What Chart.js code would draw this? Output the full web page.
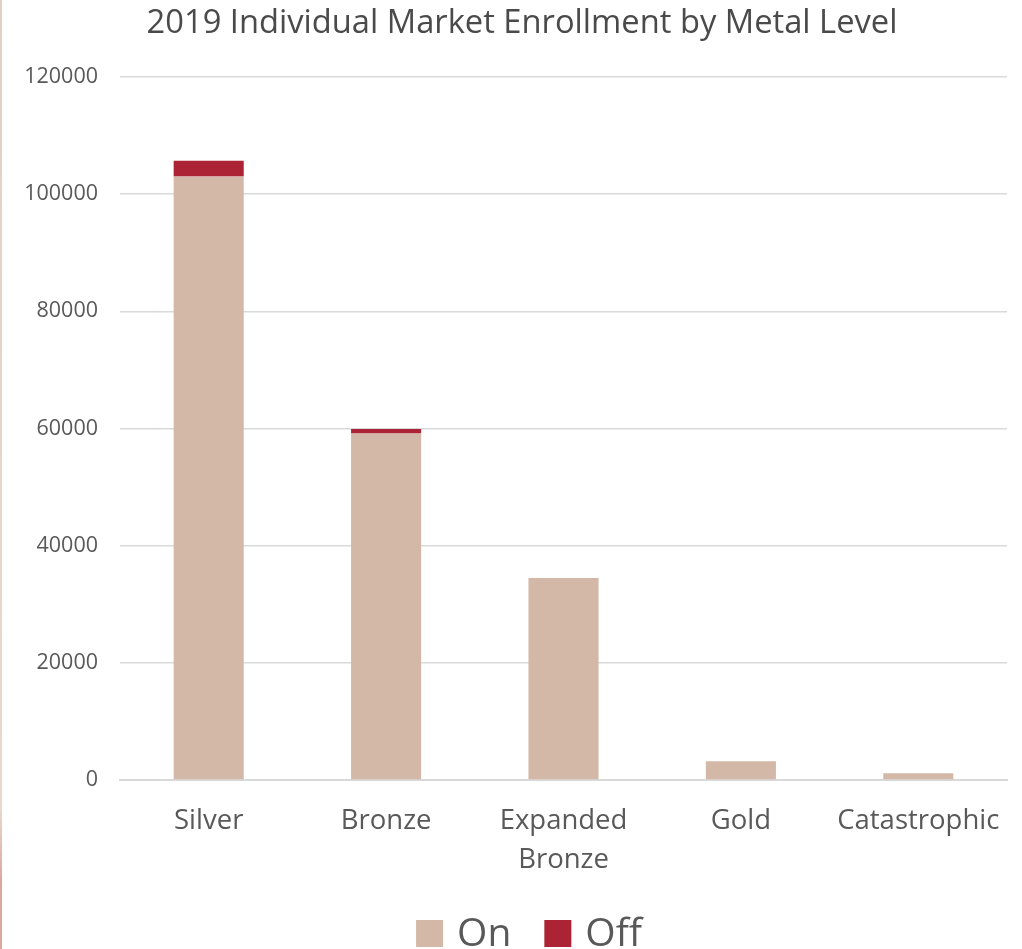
<!DOCTYPE html>
<html>
<head>
<meta charset="utf-8">
<script src="https://cdn.jsdelivr.net/npm/chart.js@4"></script>
<style>
    html, body { margin: 0; padding: 0; background: #fff; }
    .wrap { position: relative; width: 1022px; height: 949px; }
    .edge { position: absolute; left: 0; top: 0; width: 2px; height: 949px;
            background: linear-gradient(#e3cfc4, #ead8cf 85%, #d9a79e 93%, #d9a79e); }
</style>
</head>
<body>
<div class="wrap"><canvas id="metalChart"></canvas><div class="edge"></div></div>
<script>
var chartTitle = '2019 Individual Market Enrollment by Metal Level';
var metalLevels = [['Silver'], ['Bronze'], ['Expanded', 'Bronze'], ['Gold'], ['Catastrophic']];
var onExchange = [103000, 59150, 34480, 3190, 1140];
var offExchange = [2700, 750, 0, 0, 0];
var yTicks = [0, 20000, 40000, 60000, 80000, 100000, 120000];

var fontFamily = "'Open Sans', 'Noto Sans', sans-serif";

// title on top, square swatches + labels under the x axis
var headerAndLegend = {
    id: 'headerAndLegend',
    afterDraw: function (chart) {
        var c = chart.ctx;
        c.save();
        c.textBaseline = 'alphabetic';

        c.font = '32.7px ' + fontFamily;
        c.textAlign = 'center';
        c.fillStyle = '#4a4a4a';
        c.fillText(chartTitle, 522, 33);

        var box = 27, gap = 14, spacing = 33;
        c.font = '39px ' + fontFamily;
        c.textAlign = 'left';

        var total = 0;
        chart.data.datasets.forEach(function (ds, i) {
            total += box + gap + c.measureText(ds.label).width;
            if (i > 0) total += spacing;
        });

        var x = 529 - total / 2;
        chart.data.datasets.forEach(function (ds) {
            c.fillStyle = ds.backgroundColor;
            c.fillRect(x, 920, box, box);
            x += box + gap;
            c.fillStyle = '#595959';
            c.fillText(ds.label, x, 946);
            x += c.measureText(ds.label).width + spacing;
        });
        c.restore();
    }
};

document.addEventListener('DOMContentLoaded', function () {
    var ctx = document.getElementById('metalChart').getContext('2d');

    new Chart(ctx, {
        type: 'bar',
        data: {
            labels: metalLevels,
            datasets: [
                {
                    label: 'On',
                    data: onExchange,
                    backgroundColor: '#d4b8a7',
                    barPercentage: 0.395,
                    categoryPercentage: 1
                },
                {
                    label: 'Off',
                    data: offExchange,
                    backgroundColor: '#ab2334',
                    barPercentage: 0.395,
                    categoryPercentage: 1
                }
            ]
        },
        options: {
            responsive: true,
            maintainAspectRatio: false,
            animation: false,
            layout: {
                padding: { left: 0, right: 15, top: 77, bottom: 59 }
            },
            plugins: {
                title: { display: false },
                legend: { display: false },
                tooltip: { enabled: false }
            },
            scales: {
                x: {
                    stacked: true,
                    afterFit: function (axis) {
                        axis.height = 110;
                    },
                    grid: { display: false },
                    border: { color: '#d9d9d9', width: 2 },
                    ticks: {
                        color: '#595959',
                        font: { family: fontFamily, size: 27.5, lineHeight: 1.42 },
                        padding: 14,
                        maxRotation: 0
                    }
                },
                y: {
                    stacked: true,
                    min: 0,
                    max: 120000,
                    afterBuildTicks: function (axis) {
                        axis.ticks = yTicks.map(function (v) { return { value: v }; });
                    },
                    afterFit: function (axis) {
                        axis.width = 120;
                    },
                    grid: { color: '#d9d9d9', lineWidth: 1.5, drawTicks: false },
                    border: { display: false },
                    ticks: {
                        color: '#595959',
                        font: { family: fontFamily, size: 21.5 },
                        padding: 22,
                        callback: function (value) {
                            return String(value);
                        }
                    }
                }
            }
        },
        plugins: [headerAndLegend]
    });
});
</script>
</body>
</html>
